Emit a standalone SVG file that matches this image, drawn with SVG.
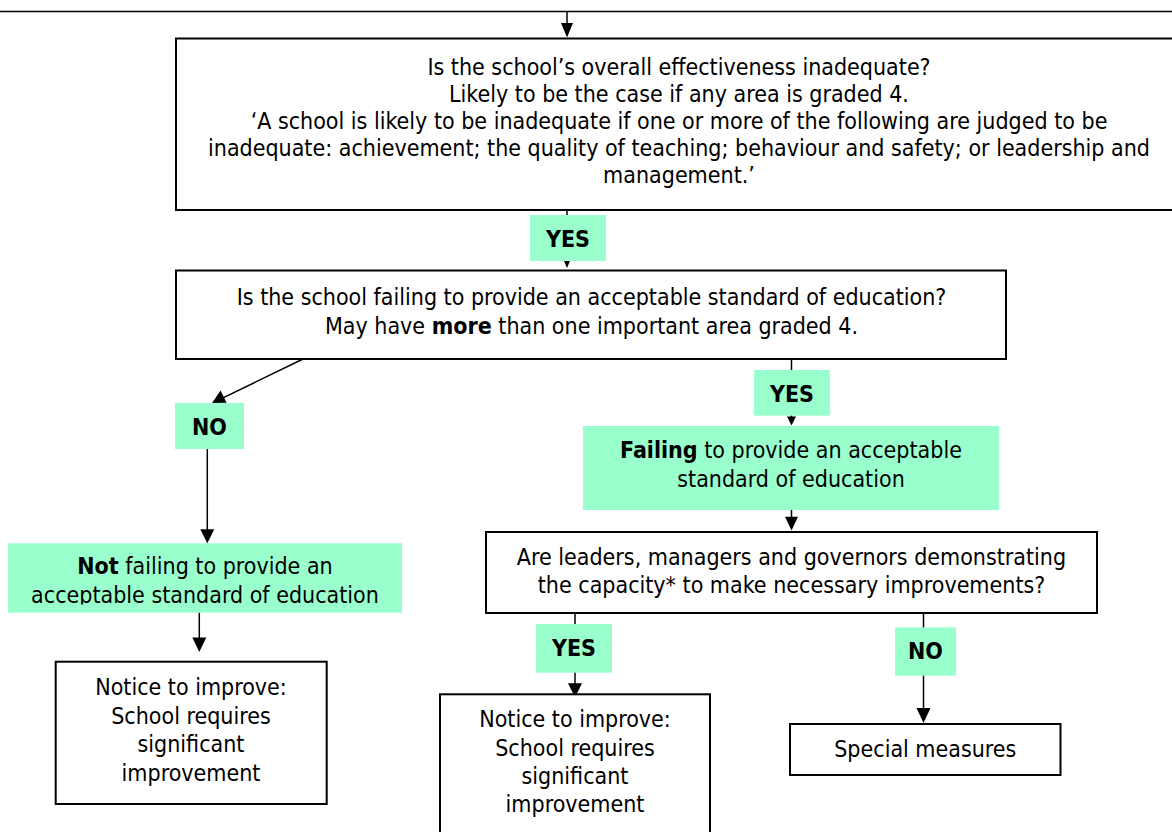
<svg xmlns="http://www.w3.org/2000/svg" width="1172" height="832" viewBox="0 0 1172 832">
<style>
text{font-family:"DejaVu Sans Condensed","DejaVu Sans",sans-serif;font-stretch:semi-condensed;font-size:23px;fill:#000;text-anchor:middle}
.b{font-weight:bold}
.box{fill:#fff;stroke:#000;stroke-width:2}
.lab{fill:#99FFCC;stroke:none}
.ln{stroke:#000;stroke-width:1.5;fill:none}
.ah{fill:#000}
</style>
<defs>
<clipPath id="clipNF"><rect x="8" y="543" width="394" height="61.5"/></clipPath>
</defs>
<rect width="1172" height="832" fill="#fff"/>
<g id="connectors">
<line class="ln" x1="0" y1="11.5" x2="1172" y2="11.5"/>
<line class="ln" x1="567" y1="11.5" x2="567" y2="24"/>
<polygon class="ah" points="561,23 573,23 567,37.5"/>
<line class="ln" x1="567" y1="210" x2="567" y2="262"/>
<polygon class="ah" points="564,261 570,261 567,268"/>
<line class="ln" x1="303" y1="359" x2="222" y2="398.3"/>
<polygon class="ah" points="212,403 220.6,390.5 226.6,402.8"/>
<line class="ln" x1="207.3" y1="449" x2="207.3" y2="531"/>
<polygon class="ah" points="200.3,529.3 214.3,529.3 207.3,543.3"/>
<line class="ln" x1="199.3" y1="612.7" x2="199.3" y2="639"/>
<polygon class="ah" points="192.3,637.5 206.3,637.5 199.3,652"/>
<line class="ln" x1="791.5" y1="359" x2="791.5" y2="418"/>
<polygon class="ah" points="787,416.5 796,416.5 791.5,425.5"/>
<line class="ln" x1="791.5" y1="510" x2="791.5" y2="518"/>
<polygon class="ah" points="785,516.7 798,516.7 791.5,530.5"/>
<line class="ln" x1="575" y1="613" x2="575" y2="685"/>
<polygon class="ah" points="568,683.3 582,683.3 575,697.5"/>
<line class="ln" x1="923.5" y1="613" x2="923.5" y2="710"/>
<polygon class="ah" points="916.5,708 930.5,708 923.5,723"/>
</g>
<g id="n-overall">
<rect class="box" x="176" y="38.5" width="1010" height="171.5"/>
<text x="679" y="75">Is the school’s overall effectiveness inadequate?</text>
<text x="679" y="102">Likely to be the case if any area is graded 4.</text>
<text x="679" y="129">‘A school is likely to be inadequate if one or more of the following are judged to be</text>
<text x="679" y="156">inadequate: achievement; the quality of teaching; behaviour and safety; or leadership and</text>
<text x="679" y="183">management.’</text>
</g>
<g id="l-yes1">
<rect class="lab" x="530" y="215" width="76" height="46"/>
<text class="b" x="568" y="246.5">YES</text>
</g>
<g id="n-failing-q">
<rect class="box" x="176" y="270.5" width="830" height="88.5"/>
<text x="591.5" y="304.5">Is the school failing to provide an acceptable standard of education?</text>
<text x="591.5" y="333.5">May have <tspan class="b">more</tspan> than one important area graded 4.</text>
</g>
<g id="l-no1">
<rect class="lab" x="175" y="403" width="69" height="46"/>
<text class="b" x="209.5" y="435">NO</text>
</g>
<g id="n-notfailing">
<rect class="lab" x="8" y="543.3" width="394" height="69.4"/>
<g clip-path="url(#clipNF)">
<text x="205" y="574.3"><tspan class="b">Not</tspan> failing to provide an</text>
<text x="205" y="602.7">acceptable standard of education</text>
</g>
</g>
<g id="n-notice1">
<rect class="box" x="55.7" y="661.7" width="271" height="142.3"/>
<text x="191" y="695">Notice to improve:</text>
<text x="191" y="723.5">School requires</text>
<text x="191" y="752">significant</text>
<text x="191" y="780.5">improvement</text>
</g>
<g id="l-yes2">
<rect class="lab" x="754" y="370" width="76" height="45.7"/>
<text class="b" x="792" y="401.7">YES</text>
</g>
<g id="n-failing">
<rect class="lab" x="583" y="426" width="416" height="84"/>
<text x="791" y="458.3"><tspan class="b">Failing</tspan> to provide an acceptable</text>
<text x="791" y="486.7">standard of education</text>
</g>
<g id="n-capacity">
<rect class="box" x="486" y="532" width="611" height="81"/>
<text x="791.5" y="565">Are leaders, managers and governors demonstrating</text>
<text x="791.5" y="593">the capacity* to make necessary improvements?</text>
</g>
<g id="l-yes3">
<rect class="lab" x="536" y="624" width="76" height="48.7"/>
<text class="b" x="574" y="655.7">YES</text>
</g>
<g id="l-no2">
<rect class="lab" x="895" y="627.3" width="61" height="48.4"/>
<text class="b" x="925.5" y="659.3">NO</text>
</g>
<g id="n-notice2">
<rect class="box" x="440" y="694.3" width="270" height="142"/>
<text x="575" y="727.3">Notice to improve:</text>
<text x="575" y="755.7">School requires</text>
<text x="575" y="784">significant</text>
<text x="575" y="812.3">improvement</text>
</g>
<g id="n-special">
<rect class="box" x="790" y="724" width="270.5" height="51"/>
<text x="925.3" y="756.7">Special measures</text>
</g>
</svg>
